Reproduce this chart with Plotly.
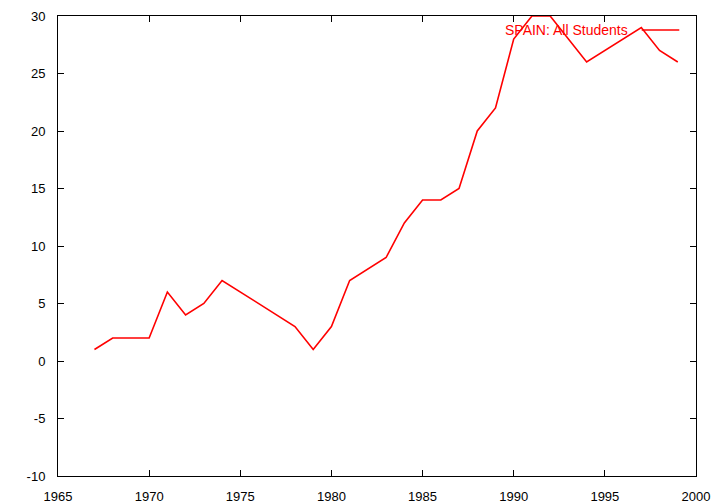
import plotly.graph_objects as go

years = [1967, 1968, 1969, 1970, 1971, 1972, 1973, 1974, 1978, 1979, 1980, 1981,
         1983, 1984, 1985, 1986, 1987, 1988, 1989, 1990, 1991, 1992, 1994, 1997,
         1998, 1999]
values = [1, 2, 2, 2, 6, 4, 5, 7, 3, 1, 3, 7,
          9, 12, 14, 14, 15, 20, 22, 28, 30, 30, 26, 29,
          27, 26]
series_name = "SPAIN: All Students"
y_tick_vals = [-10, -5, 0, 5, 10, 15, 20, 25, 30]
y_tick_text = ["-10", "-5", "0", "5", "10", "15", "20", "25", "30"]
x_tick_vals = [1965, 1970, 1975, 1980, 1985, 1990, 1995, 2000]
x_tick_text = ["1965", "1970", "1975", "1980", "1985", "1990", "1995", "2000"]

FONT = "Liberation Sans, Arial, sans-serif"

fig = go.Figure()
fig.add_trace(go.Scatter(x=years, y=values, mode="lines", name=series_name,
                         line=dict(color="#ff0000", width=1.6), showlegend=False))

axis_common = dict(showgrid=False, zeroline=False, showline=True, linecolor="black",
                   linewidth=1, mirror="allticks", ticks="inside", ticklen=6,
                   tickcolor="black", tickwidth=1, automargin=False,
                   tickfont=dict(family=FONT, size=13, color="black"))

fig.update_layout(
    width=720, height=504,
    margin=dict(l=58, r=24, t=16, b=28),
    paper_bgcolor="white", plot_bgcolor="white",
    xaxis=dict(range=[1965, 2000], tickvals=x_tick_vals, ticktext=x_tick_text,
               ticklabelstandoff=8, **axis_common),
    yaxis=dict(range=[-10, 30], tickvals=y_tick_vals, ticktext=y_tick_text,
               ticklabelstandoff=9, **axis_common),
)

fig.add_annotation(xref="paper", yref="paper", x=0.8966, y=0.9696, text=series_name,
                   showarrow=False, xanchor="right", yanchor="middle",
                   font=dict(family=FONT, size=14, color="#ff0000"))
fig.add_shape(type="line", xref="paper", yref="paper", x0=0.9149, x1=0.9738,
              y0=0.9696, y1=0.9696, line=dict(color="#ff0000", width=1.6))

fig.write_html("out.html", config={"displayModeBar": False},
               post_script="document.body.style.margin='0';document.body.style.overflow='hidden';")
